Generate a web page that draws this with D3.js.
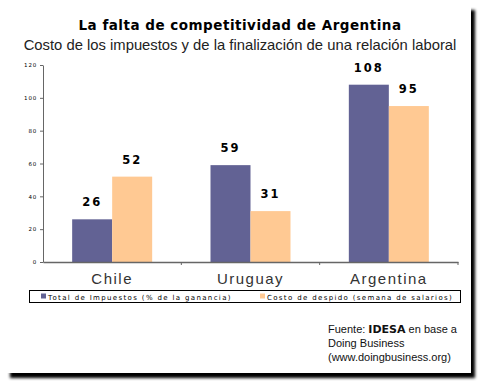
<!DOCTYPE html>
<html>
<head>
<meta charset="utf-8">
<script src="https://cdn.jsdelivr.net/npm/d3@7"></script>
<style>
  body { margin: 0; background: #fff; }
  svg { display: block; }
</style>
</head>
<body>
<div id="chart"></div>
<script>
// Datos del gráfico
const paises = ["Chile", "Uruguay", "Argentina"];
const impuestos = [26, 59, 108];   // Total de Impuestos (% de la ganancia)
const despido = [52, 31, 95];      // Costo de despido (semana de salarios)
const series = ["Total de Impuestos (% de la ganancia)", "Costo de despido (semana de salarios)"];
const yTicks = [0, 20, 40, 60, 80, 100, 120];

const colors = ["#626294", "#ffc993"];

const W = 480, H = 383;
const svg = d3.select("#chart").append("svg")
    .attr("width", W)
    .attr("height", H);

// sombra del recuadro
const defs = svg.append("defs");
const blur = defs.append("filter").attr("id", "blur")
    .attr("x", -0.1).attr("y", -0.1).attr("width", 1.2).attr("height", 1.2);
blur.append("feGaussianBlur").attr("stdDeviation", 1.4);

svg.append("rect")
    .attr("x", 10).attr("y", 10)
    .attr("width", 465).attr("height", 368)
    .attr("fill", "#000")
    .attr("filter", "url(#blur)");
svg.append("rect")
    .attr("x", 0).attr("y", 0)
    .attr("width", 471).attr("height", 373)
    .attr("fill", "#fff");

// títulos
svg.append("text")
    .attr("x", 240).attr("y", 30)
    .attr("text-anchor", "middle")
    .style("font-family", "DejaVu Sans")
    .style("font-weight", "bold")
    .style("font-size", "13.5px")
    .style("letter-spacing", "0.5px")
    .text("La falta de competitividad de Argentina");

svg.append("text")
    .attr("x", 240).attr("y", 50)
    .attr("text-anchor", "middle")
    .style("font-family", "Liberation Sans, Arial")
    .style("font-size", "14.8px")
    .style("fill", "#222")
    .text("Costo de los impuestos y de la finalización de una relación laboral");

// escalas
const x0 = d3.scaleBand().domain(paises).range([43, 458]).padding(0);
const x1 = d3.scaleBand().domain([0, 1]).range([0, 80]);
const y = d3.scaleLinear().domain([0, 120]).range([262, 65]);

// eje Y
const yAxis = svg.append("g")
    .attr("transform", "translate(43,0)")
    .call(d3.axisLeft(y).tickValues(yTicks).tickSize(3).tickSizeOuter(0));
yAxis.select(".domain").attr("stroke", "#666");
yAxis.selectAll(".tick line").attr("stroke", "#666");
yAxis.selectAll(".tick text")
    .attr("x", -6)
    .style("font-family", "DejaVu Sans")
    .style("font-size", "5.5px")
    .style("letter-spacing", "0.8px")
    .attr("fill", "#000");

// barras
const grupos = svg.append("g").selectAll("g")
    .data(paises)
    .enter().append("g")
    .attr("transform", d => `translate(${x0(d) + x0.bandwidth() / 2 - 40},0)`);

const datos = (d, i) => [impuestos[i], despido[i]];

grupos.selectAll("rect")
    .data(datos)
    .enter().append("rect")
    .attr("x", (d, j) => x1(j))
    .attr("y", d => y(d))
    .attr("width", x1.bandwidth())
    .attr("height", d => y(0) - y(d))
    .attr("fill", (d, j) => colors[j]);

grupos.selectAll("text")
    .data(datos)
    .enter().append("text")
    .attr("x", (d, j) => x1(j) + x1.bandwidth() / 2)
    .attr("y", d => y(d) - 13)
    .attr("text-anchor", "middle")
    .style("font-family", "DejaVu Sans")
    .style("font-weight", "bold")
    .style("font-size", "11.5px")
    .style("letter-spacing", "2px")
    .text(d => d);

// eje X
const xAxis = svg.append("g")
    .attr("transform", `translate(0,${y(0)})`)
    .call(d3.axisBottom(x0).tickSize(0).tickSizeOuter(0));
xAxis.select(".domain").attr("stroke", "#666").attr("stroke-width", 1.5);
xAxis.selectAll(".tick text")
    .attr("y", 11)
    .attr("dy", "0.71em")
    .style("font-family", "Liberation Sans, Arial")
    .style("font-size", "15px")
    .style("letter-spacing", "1.5px")
    .attr("fill", "#333");
// marcas entre categorías
svg.append("g").selectAll("line")
    .data(paises)
    .enter().append("line")
    .attr("x1", d => x0(d) + x0.bandwidth())
    .attr("x2", d => x0(d) + x0.bandwidth())
    .attr("y1", y(0))
    .attr("y2", y(0) + 3)
    .attr("stroke", "#666");

// leyenda
const leyenda = svg.append("g");
leyenda.append("rect")
    .attr("x", 29.5).attr("y", 290.5)
    .attr("width", 431).attr("height", 12)
    .attr("fill", "#fff")
    .attr("stroke", "#000");
const items = leyenda.selectAll("g")
    .data(series)
    .enter().append("g")
    .attr("transform", (d, i) => `translate(${i === 0 ? 41 : 260},0)`);
items.append("rect")
    .attr("x", 0).attr("y", 293.5)
    .attr("width", 5).attr("height", 5)
    .attr("fill", (d, i) => colors[i]);
items.append("text")
    .attr("x", 7).attr("y", 299.5)
    .style("font-family", "DejaVu Sans")
    .style("font-size", "7px")
    .style("letter-spacing", "1.35px")
    .text(d => d);

// fuente
const fuente = svg.append("text")
    .attr("x", 328).attr("y", 333)
    .style("font-family", "Liberation Sans, Arial")
    .style("font-size", "11px")
    .attr("fill", "#111");
fuente.append("tspan").text("Fuente: ");
fuente.append("tspan").style("font-family", "DejaVu Sans").style("font-weight", "bold").text("IDESA");
fuente.append("tspan").text(" en base a");
svg.append("text")
    .attr("x", 328).attr("y", 347)
    .style("font-family", "Liberation Sans, Arial")
    .style("font-size", "11px")
    .attr("fill", "#111")
    .text("Doing Business");
svg.append("text")
    .attr("x", 328).attr("y", 361)
    .style("font-family", "Liberation Sans, Arial")
    .style("font-size", "11px")
    .attr("fill", "#111")
    .text("(www.doingbusiness.org)");
</script>
</body>
</html>
